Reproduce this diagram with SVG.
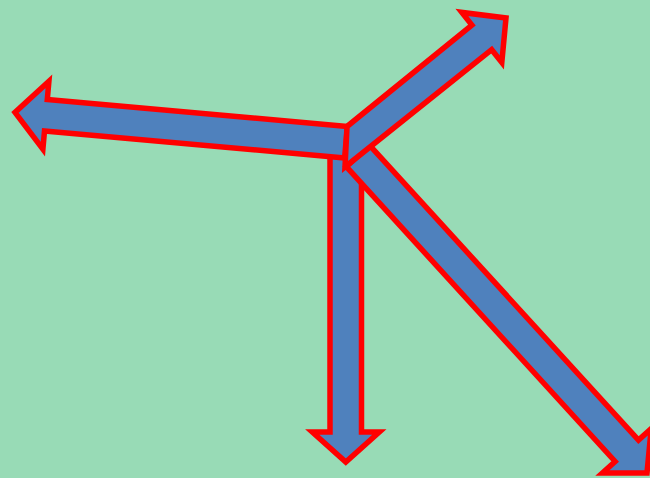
<svg xmlns="http://www.w3.org/2000/svg" width="650" height="478" viewBox="0 0 650 478">
  <style>
    .arrow { fill: #4F81BD; stroke: #FF0000; stroke-width: 5.5; stroke-linejoin: miter; stroke-miterlimit: 10; }
  </style>
  <rect x="0" y="0" width="650" height="478" fill="#98DBB6"/>
  <g id="arrow-down">
    <polygon class="arrow" points="330,150 361.5,150 361.5,432 379.3,432 345.8,462 312.3,432 330,432"/>
  </g>
  <g id="arrow-left">
    <polygon class="arrow" points="347.4,126.5 47.3,99.5 48.9,81.3 15,112.4 42.9,149.1 44.5,130.9 344.6,157.9"/>
  </g>
  <g id="arrow-diagonal">
    <polygon class="arrow" points="346.3,166.7 369.7,145.3 638.5,440.1 651.2,428.6 647,473 602.4,473 615.1,461.5"/>
  </g>
  <g id="arrow-up-right">
    <polygon class="arrow" points="347,126.5 471.9,25.1 461.8,12.4 506,18 501.8,62.4 491.7,49.7 345,167"/>
  </g>
</svg>
